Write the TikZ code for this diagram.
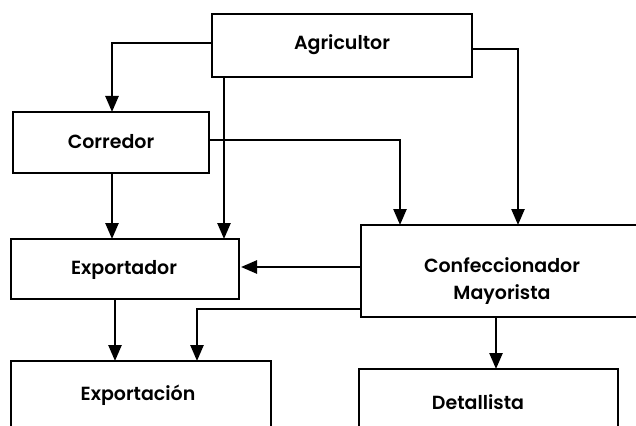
\documentclass[tikz,border=0pt]{standalone}
\usepackage{fontspec}
\setmainfont{Poppins}[UprightFont=* SemiBold]
\usetikzlibrary{arrows.meta}
\begin{document}
\begin{tikzpicture}[x=1pt,y=-1pt,
  box/.style={draw,line width=2.9pt},
  lbl/.style={font=\fontsize{19}{27}\selectfont,align=center,inner sep=0pt},
  conn/.style={line width=2.5pt,-{Triangle[width=13pt,length=16pt]}}]
\useasboundingbox (0,0) rectangle (636,425);
\clip (0,0) rectangle (636,425);
\fill[white] (0,0) rectangle (636,425);
% boxes
\draw[box] (212,14) rectangle (472,77);
\node[lbl] (agrT) at (342,45) {Agricultor};
\draw[box] (13,112) rectangle (209,173);
\node[lbl] (corT) at (111,142) {Corredor};
\draw[box] (11,239) rectangle (239,299);
\node[lbl] (expT) at (124,270) {Exportador};
\draw[box] (361,225) rectangle (650,317);
\node[lbl] (cmT) at (502,281) {Confeccionador\\Mayorista};
\draw[box] (11,361) rectangle (271,440);
\node[lbl] (exnT) at (138,395) {Exportación};
\draw[box] (359,369) rectangle (618,440);
\node[lbl] (detT) at (478,402) {Detallista};
% coordinates
\coordinate (a1) at (212,43); \coordinate (a1b) at (112,43); \coordinate (c1) at (112,112);
\coordinate (a2) at (224,77); \coordinate (e2) at (224,239);
\coordinate (a3) at (472,49); \coordinate (a3b) at (518,49); \coordinate (m3) at (518,225);
\coordinate (c4) at (209,140); \coordinate (c4b) at (400,140); \coordinate (m4) at (400,225);
\coordinate (c5) at (112,173); \coordinate (e5) at (112,239);
\coordinate (m6) at (361,267); \coordinate (e6) at (241,267);
\coordinate (m7) at (361,309); \coordinate (m7b) at (197,309); \coordinate (x7) at (197,361);
\coordinate (e8) at (115,299); \coordinate (x8) at (115,361);
\coordinate (m9) at (496,317); \coordinate (d9) at (496,369);
% connectors
\draw[conn] (a1) -- (a1b) -- (c1);
\draw[conn] (a2) -- (e2);
\draw[conn] (a3) -- (a3b) -- (m3);
\draw[conn] (c4) -- (c4b) -- (m4);
\draw[conn] (c5) -- (e5);
\draw[conn] (m6) -- (e6);
\draw[conn] (m7) -- (m7b) -- (x7);
\draw[conn] (e8) -- (x8);
\draw[conn] (m9) -- (d9);
\end{tikzpicture}
\end{document}
